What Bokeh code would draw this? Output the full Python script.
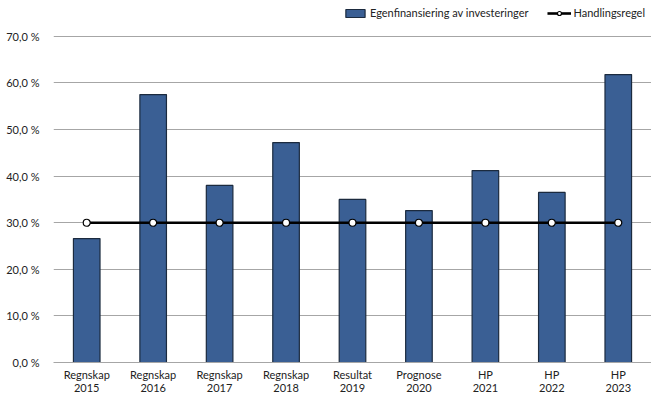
from bokeh.plotting import figure
from bokeh.models import ColumnDataSource, Range1d, Legend, LegendItem, FixedTicker, CustomJSTickFormatter, LinearAxis
from bokeh.embed import file_html
from bokeh.resources import INLINE

label_line1 = ["Regnskap", "Regnskap", "Regnskap", "Regnskap", "Resultat", "Prognose", "HP", "HP", "HP"]
label_line2 = ["2015", "2016", "2017", "2018", "2019", "2020", "2021", "2022", "2023"]
egenfinansiering = [26.6, 57.5, 38.0, 47.2, 35.0, 32.6, 41.2, 36.5, 61.8]
handlingsregel = [30.0] * 9
y_ticks = [0, 10, 20, 30, 40, 50, 60, 70]

FONT = "Lato"
xs = list(range(len(label_line1)))

p = figure(width=651, height=394, output_backend="svg", toolbar_location=None,
           x_range=Range1d(-0.5, len(xs) - 0.5), y_range=Range1d(0, 77.7),
           min_border_left=53, min_border_right=0, min_border_top=0, min_border_bottom=0)

src = ColumnDataSource(dict(x=xs, y=egenfinansiering, h=handlingsregel))
bars = p.vbar(x="x", top="y", width=0.4, source=src, fill_color="#3A5F94",
              line_color="#1B2A3E", line_width=1.2)
line = p.line(x="x", y="h", source=src, line_color="black", line_width=2.6)
pts = p.scatter(x="x", y="h", source=src, size=7, fill_color="white",
                line_color="black", line_width=1.2)

p.outline_line_color = None
p.xgrid.grid_line_color = None
p.ygrid.grid_line_color = "#A6A6A6"
p.ygrid.grid_line_width = 1
p.yaxis.ticker = FixedTicker(ticks=y_ticks)
p.yaxis.formatter = CustomJSTickFormatter(code="return tick.toFixed(1).replace('.', ',') + ' %';")
p.yaxis.axis_line_color = None
p.yaxis.major_tick_line_color = None
p.yaxis.minor_tick_line_color = None
p.yaxis.major_label_standoff = 8
p.yaxis.major_label_text_font = FONT
p.yaxis.major_label_text_font_size = "11px"
p.yaxis.major_label_text_color = "#222222"

ax1 = p.xaxis[0]
ax1.ticker = FixedTicker(ticks=xs)
ax1.major_label_overrides = {i: t for i, t in zip(xs, label_line1)}
ax1.axis_line_color = "#A6A6A6"
ax1.major_tick_line_color = None
ax1.minor_tick_line_color = None
ax1.major_tick_out = 0
ax1.major_tick_in = 0
ax1.major_label_standoff = 5
ax1.major_label_text_font = FONT
ax1.major_label_text_font_size = "11px"
ax1.major_label_text_line_height = 1.0
ax1.major_label_text_color = "#222222"

ax2 = LinearAxis(ticker=FixedTicker(ticks=xs),
                 major_label_overrides={i: t for i, t in zip(xs, label_line2)})
ax2.axis_line_color = None
ax2.major_tick_line_color = None
ax2.minor_tick_line_color = None
ax2.major_tick_out = 0
ax2.major_tick_in = 0
ax2.major_label_standoff = 0
ax2.major_label_text_font = FONT
ax2.major_label_text_font_size = "11px"
ax2.major_label_text_line_height = 1.0
ax2.major_label_text_color = "#222222"
p.add_layout(ax2, "below")

legend = Legend(items=[LegendItem(label="Egenfinansiering av investeringer", renderers=[bars]),
                       LegendItem(label="Handlingsregel", renderers=[line, pts])],
                orientation="horizontal", location="top_right",
                label_text_font=FONT, label_text_font_size="11px", label_text_color="#222222",
                glyph_width=24, glyph_height=10, spacing=18, label_standoff=3,
                border_line_color=None, background_fill_alpha=0,
                padding=4, margin=6)
p.add_layout(legend, "center")

open("out.html", "w").write(file_html(p, INLINE))
